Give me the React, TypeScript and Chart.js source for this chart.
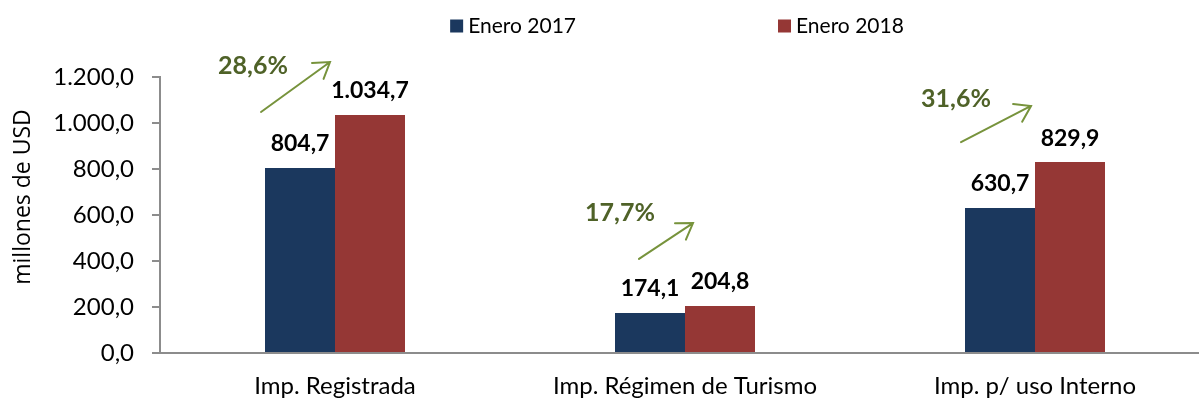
import React, { useEffect, useRef } from "react";
import { Chart, registerables } from "chart.js";

Chart.register(...registerables);

// ---- data ----
const categories = ["Imp. Registrada", "Imp. Régimen de Turismo", "Imp. p/ uso Interno"];
const seriesNames = ["Enero 2017", "Enero 2018"];
const values2017 = [804.7, 174.1, 630.7];
const values2018 = [1034.7, 204.8, 829.9];
const growthLabels = ["28,6%", "17,7%", "31,6%"];
const yTicks = [0, 200, 400, 600, 800, 1000, 1200];
const yTitle = "millones de USD";

// ---- styles ----
const NAVY = "#1B385E";
const RED = "#953735";
const AXIS = "#8C8C8C";
const GROWTH_TEXT = "#4F6228";
const GROWTH_ARROW = "#77933C";
const FONT = "Lato";

// annotation placement: x offset in px from category centre, y in data units
const growthPlacement = [
  { textDx: -82, textY: 1248, fromDx: -74, fromY: 1048, toDx: -5, toY: 1265 },
  { textDx: -65, textY: 609, fromDx: -46, fromY: 409, toDx: 8, toY: 565 },
  { textDx: -79, textY: 1104, fromDx: -74, fromY: 917, toDx: -4, toY: 1074 },
];

function fmt(v: number, decimals = 1): string {
  const fixed = Number(v).toFixed(decimals);
  const [intPart, dec] = fixed.split(".");
  const withSep = intPart.replace(/\B(?=(\d{3})+(?!\d))/g, ".");
  return dec !== undefined ? withSep + "," + dec : withSep;
}

const overlayPlugin = {
  id: "overlay",
  afterDraw(chart: any) {
    const ctx = chart.ctx as CanvasRenderingContext2D;
    const area = chart.chartArea;
    const xs = chart.scales.x;
    const ys = chart.scales.y;

    // value labels
    ctx.save();
    ctx.fillStyle = "#000";
    ctx.font = `bold 23px ${FONT}`;
    ctx.textAlign = "center";
    ctx.textBaseline = "middle";
    chart.data.datasets.forEach((ds: any, di: number) => {
      const meta = chart.getDatasetMeta(di);
      meta.data.forEach((bar: any, i: number) => {
        ctx.fillText(fmt(ds.data[i]), bar.x, bar.y - 24);
      });
    });
    ctx.restore();

    // growth annotations
    growthLabels.forEach((label, i) => {
      const p = growthPlacement[i];
      const cx = xs.getPixelForValue(i);
      ctx.save();
      ctx.fillStyle = GROWTH_TEXT;
      ctx.font = `bold 25px ${FONT}`;
      ctx.textAlign = "center";
      ctx.textBaseline = "middle";
      ctx.fillText(label, cx + p.textDx, ys.getPixelForValue(p.textY));
      const x1 = cx + p.fromDx;
      const y1 = ys.getPixelForValue(p.fromY);
      const x2 = cx + p.toDx;
      const y2 = ys.getPixelForValue(p.toY);
      ctx.strokeStyle = GROWTH_ARROW;
      ctx.lineWidth = 2;
      ctx.lineCap = "round";
      ctx.beginPath();
      ctx.moveTo(x1, y1);
      ctx.lineTo(x2, y2);
      const ang = Math.atan2(y2 - y1, x2 - x1);
      const hl = 18;
      const ha = 0.58;
      ctx.moveTo(x2 - hl * Math.cos(ang - ha), y2 - hl * Math.sin(ang - ha));
      ctx.lineTo(x2, y2);
      ctx.lineTo(x2 - hl * Math.cos(ang + ha), y2 - hl * Math.sin(ang + ha));
      ctx.stroke();
      ctx.restore();
    });

    // y-axis title
    ctx.save();
    ctx.fillStyle = "#000";
    ctx.font = `23px "Open Sans"`;
    ctx.textAlign = "center";
    ctx.textBaseline = "middle";
    ctx.translate(23, (area.top + area.bottom) / 2 - 18);
    ctx.rotate(-Math.PI / 2);
    ctx.fillText(yTitle, 0, 0);
    ctx.restore();

    // legend
    ctx.save();
    ctx.font = `21px ${FONT}`;
    ctx.textBaseline = "middle";
    ctx.textAlign = "left";
    const box = 13;
    const gapText = 5;
    const gapItems = 202;
    const items = chart.data.datasets.map((ds: any) => ({
      label: ds.label,
      color: ds.backgroundColor,
      w: box + gapText + ctx.measureText(ds.label).width,
    }));
    const total = items.reduce((s: number, it: any) => s + it.w, 0) + gapItems * (items.length - 1);
    let x = (area.left + area.right) / 2 - 8 - total / 2;
    const yMid = 26;
    items.forEach((it: any) => {
      ctx.fillStyle = it.color;
      ctx.fillRect(x, yMid - box / 2, box, box);
      ctx.fillStyle = "#000";
      ctx.fillText(it.label, x + box + gapText, yMid);
      x += it.w + gapItems;
    });
    ctx.restore();
  },
};

export default function App() {
  const ref = useRef<HTMLCanvasElement | null>(null);

  useEffect(() => {
    if (!ref.current) return;
    Chart.defaults.font.family = FONT;
    const chart = new Chart(ref.current, {
      type: "bar",
      data: {
        labels: categories,
        datasets: [
          {
            label: seriesNames[0],
            data: values2017,
            backgroundColor: NAVY,
            categoryPercentage: 0.4,
            barPercentage: 1,
          },
          {
            label: seriesNames[1],
            data: values2018,
            backgroundColor: RED,
            categoryPercentage: 0.4,
            barPercentage: 1,
          },
        ],
      },
      options: {
        responsive: false,
        animation: false,
        layout: { padding: { top: 77, right: 0, bottom: 2, left: 0 } },
        plugins: {
          legend: { display: false },
          tooltip: { enabled: false },
        },
        scales: {
          x: {
            grid: { display: false, drawTicks: false },
            border: { display: true, color: AXIS, width: 2 },
            ticks: { font: { family: FONT, size: 24 }, color: "#000", padding: 19, maxRotation: 0 },
            afterFit: (axis: any) => {
              axis.height = 45;
            },
          },
          y: {
            min: 0,
            max: 1200,
            afterBuildTicks: (axis: any) => {
              axis.ticks = yTicks.map((v) => ({ value: v }));
            },
            afterFit: (axis: any) => {
              axis.width = 160;
            },
            grid: {
              drawOnChartArea: false,
              drawTicks: true,
              tickLength: 8,
              color: AXIS,
              lineWidth: 2,
            },
            border: { display: true, color: AXIS, width: 2 },
            ticks: {
              font: { family: FONT, size: 24 },
              color: "#000",
              padding: 18,
              callback: (v: any) => fmt(Number(v)),
            },
          },
        },
      },
      plugins: [overlayPlugin],
    });
    return () => chart.destroy();
  }, []);

  return (
    <div style={{ position: "fixed", left: 0, top: 0, width: 1210, height: 400, background: "#fff" }}>
      <canvas ref={ref} width={1210} height={400} />
    </div>
  );
}
